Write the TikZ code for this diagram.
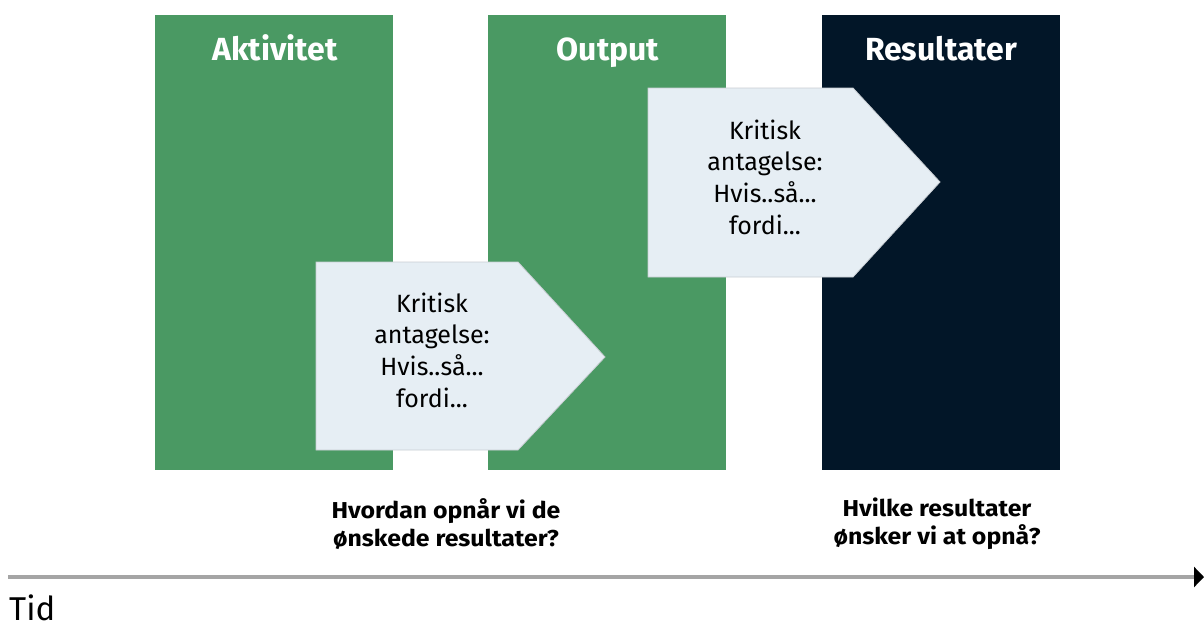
\documentclass[tikz,border=0pt]{standalone}
\usepackage{fontspec}
\setmainfont{Fira Sans}
\newfontfamily\qfont{Fira Sans}[FakeStretch=1.08]
\usetikzlibrary{arrows.meta}
\definecolor{boxgreen}{RGB}{74,153,99}
\definecolor{boxnavy}{RGB}{2,22,40}
\definecolor{notefill}{RGB}{230,238,244}
\definecolor{noteedge}{RGB}{200,205,210}
\definecolor{timegray}{RGB}{165,165,165}
\begin{document}
\begin{tikzpicture}[x=1pt,y=-1pt,
  column/.style={minimum width=238pt,minimum height=455pt,inner sep=0pt,anchor=north west,draw=none},
  coltitle/.style={font=\fontsize{32}{36}\selectfont\bfseries,text=white,anchor=base,inner sep=0pt},
  notebox/.style={fill=notefill,draw=noteedge,line width=0.8pt},
  notetext/.style={font=\fontsize{25}{31.7}\selectfont,align=center,text=black},
  question/.style={font=\qfont\fontsize{23}{28}\selectfont\bfseries,align=center,text=black}]
\useasboundingbox (0,0) rectangle (1204,626);
\node[column,fill=boxgreen] (akt) at (155,15) {};
\node[column,fill=boxgreen] (out) at (488,15) {};
\node[column,fill=boxnavy] (res) at (822,15) {};
\node[coltitle] (taktiv) at (275,61) {Aktivitet};
\node[coltitle] (tout) at (608,61) {Output};
\node[coltitle] (tres) at (941,61) {Resultater};
% note 1
\draw[notebox] (316,262) -- (518,262) -- (605,357) -- (518,450) -- (316,450) -- cycle;
\node[notetext] (n1) at (432,350) {Kritisk\\antagelse:\\Hvis..så...\\fordi...};
% note 2
\draw[notebox] (648,88) -- (853,88) -- (940,182) -- (853,277) -- (648,277) -- cycle;
\node[notetext] (n2) at (765,177) {Kritisk\\antagelse:\\Hvis..så...\\fordi...};
% questions
\node[question] (q1) at (446,524) {Hvordan opnår vi de\\ønskede resultater?};
\node[question] (q2) at (937,524) {Hvilke resultater\\ønsker vi at opnå?};
% timeline
\coordinate (tstart) at (8,577);
\coordinate (tend) at (1204,577);
\draw[timegray,line width=4.5pt,-{Triangle[length=10pt,width=20pt,color=black]}] (tstart) -- (tend);
\node[font=\fontsize{33}{38}\selectfont,anchor=base west,inner sep=0pt] (tid) at (9,620) {Tid};
\end{tikzpicture}
\end{document}
